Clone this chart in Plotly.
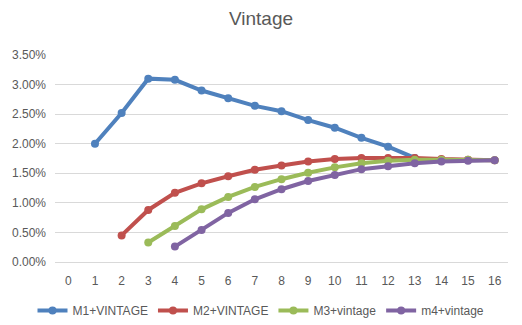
import plotly.graph_objects as go

# Vintage curves by month on book (values in %)
months = list(range(0, 17))
m1_x = list(range(1, 14))
m1_vals = [2.00, 2.52, 3.10, 3.08, 2.90, 2.77, 2.64, 2.55, 2.40, 2.27, 2.10, 1.95, 1.76]
m2_x = list(range(2, 17))
m2_vals = [0.45, 0.88, 1.17, 1.33, 1.45, 1.56, 1.63, 1.70, 1.74, 1.76, 1.76, 1.76, 1.74, 1.73, 1.72]
m3_x = list(range(3, 17))
m3_vals = [0.33, 0.61, 0.89, 1.10, 1.27, 1.40, 1.51, 1.60, 1.67, 1.71, 1.73, 1.73, 1.73, 1.72]
m4_x = list(range(4, 17))
m4_vals = [0.26, 0.54, 0.83, 1.06, 1.23, 1.37, 1.47, 1.57, 1.62, 1.67, 1.70, 1.71, 1.72]
y_ticks = [0.0, 0.5, 1.0, 1.5, 2.0, 2.5, 3.0, 3.5]

series = [
    ("M1+VINTAGE", m1_x, m1_vals, "#4F81BD"),
    ("M2+VINTAGE", m2_x, m2_vals, "#C0504D"),
    ("M3+vintage", m3_x, m3_vals, "#9BBB59"),
    ("m4+vintage", m4_x, m4_vals, "#8064A2"),
]

fig = go.Figure()
for name, xs, vals, color in series:
    fig.add_trace(go.Scatter(
        x=xs, y=[v / 100 for v in vals], name=name, mode="lines+markers",
        line=dict(color=color, width=4),
        marker=dict(color=color, size=8),
    ))

font = "Liberation Sans, Arial, sans-serif"
fig.update_layout(
    width=522, height=325,
    margin=dict(l=55, r=14, t=55, b=63, autoexpand=False),
    paper_bgcolor="white", plot_bgcolor="white",
    title=dict(text="Vintage", x=0.5, xanchor="center", y=0.945, yanchor="middle",
               font=dict(family=font, size=19, color="#595959")),
    font=dict(family=font, size=12, color="#595959"),
    xaxis=dict(range=[-0.5, 16.5], tickmode="array", tickvals=months,
               ticktext=[str(m) for m in months], showgrid=False, zeroline=False,
               showline=True, linecolor="#D9D9D9", linewidth=1, ticks="",
               ticklabelstandoff=8, automargin=False,
               tickfont=dict(size=12, color="#595959"), fixedrange=True),
    yaxis=dict(range=[0, 0.035], tickmode="array", tickvals=[t / 100 for t in y_ticks],
               tickformat=".2%", showgrid=True, gridcolor="#D9D9D9", gridwidth=1,
               zeroline=False, ticks="", ticklabelstandoff=8, automargin=False,
               tickfont=dict(size=12, color="#595959")),
    legend=dict(orientation="h", xref="container", yref="container",
                x=0.5, xanchor="center", y=0.045, yanchor="middle",
                font=dict(size=12, color="#595959"), itemwidth=30, tracegroupgap=0),
    showlegend=True,
)

fig.write_html("out.html")
